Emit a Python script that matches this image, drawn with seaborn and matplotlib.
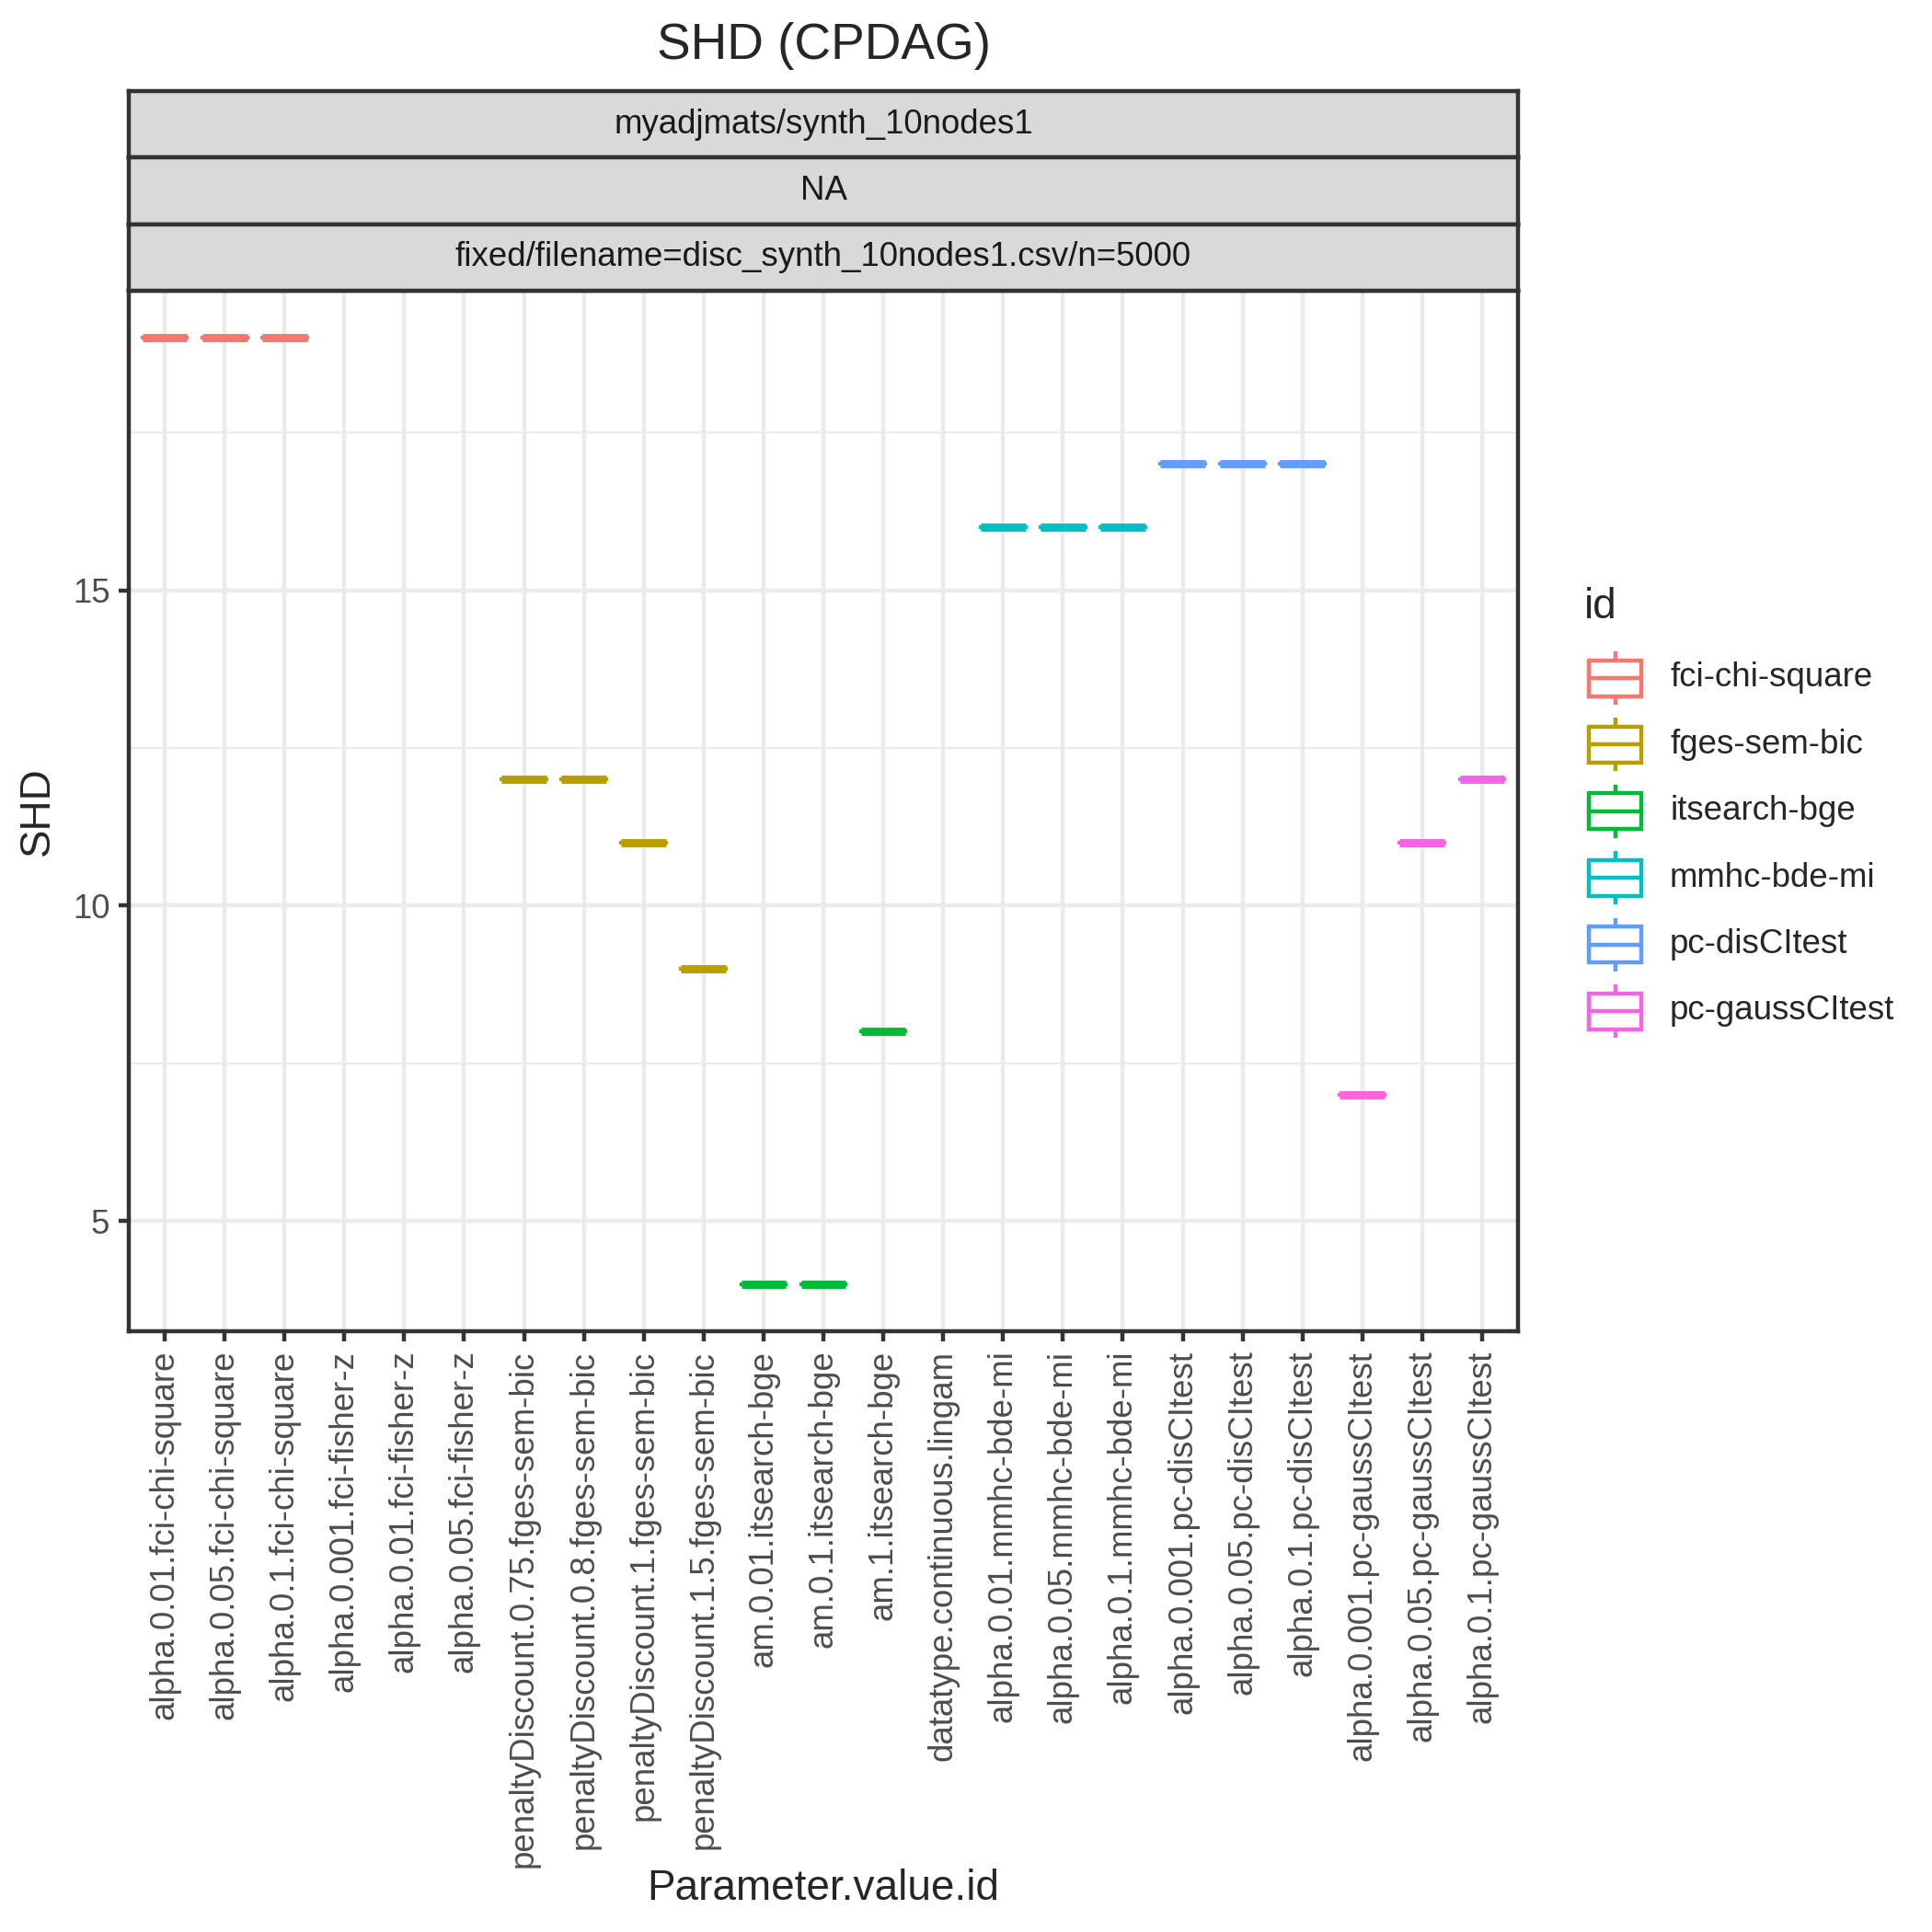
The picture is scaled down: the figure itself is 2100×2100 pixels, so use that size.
import pandas as pd
import seaborn as sns
from matplotlib import pyplot as plt
from matplotlib.ticker import MultipleLocator

# categories on the x axis, in the order shown
param_order = [
    'alpha.0.01.fci-chi-square', 'alpha.0.05.fci-chi-square', 'alpha.0.1.fci-chi-square',
    'alpha.0.001.fci-fisher-z', 'alpha.0.01.fci-fisher-z', 'alpha.0.05.fci-fisher-z',
    'penaltyDiscount.0.75.fges-sem-bic', 'penaltyDiscount.0.8.fges-sem-bic',
    'penaltyDiscount.1.fges-sem-bic', 'penaltyDiscount.1.5.fges-sem-bic',
    'am.0.01.itsearch-bge', 'am.0.1.itsearch-bge', 'am.1.itsearch-bge',
    'datatype.continuous.lingam',
    'alpha.0.01.mmhc-bde-mi', 'alpha.0.05.mmhc-bde-mi', 'alpha.0.1.mmhc-bde-mi',
    'alpha.0.001.pc-disCItest', 'alpha.0.05.pc-disCItest', 'alpha.0.1.pc-disCItest',
    'alpha.0.001.pc-gaussCItest', 'alpha.0.05.pc-gaussCItest', 'alpha.0.1.pc-gaussCItest',
]

id_order = ['fci-chi-square', 'fges-sem-bic', 'itsearch-bge',
            'mmhc-bde-mi', 'pc-disCItest', 'pc-gaussCItest']
id_colors = ['#F8766D', '#B79F00', '#00BA38', '#00BFC4', '#619CFF', '#F564E3']

# observed values (fisher-z and lingam runs have no SHD)
params = [
    'alpha.0.01.fci-chi-square', 'alpha.0.05.fci-chi-square', 'alpha.0.1.fci-chi-square',
    'penaltyDiscount.0.75.fges-sem-bic', 'penaltyDiscount.0.8.fges-sem-bic',
    'penaltyDiscount.1.fges-sem-bic', 'penaltyDiscount.1.5.fges-sem-bic',
    'am.0.01.itsearch-bge', 'am.0.1.itsearch-bge', 'am.1.itsearch-bge',
    'alpha.0.01.mmhc-bde-mi', 'alpha.0.05.mmhc-bde-mi', 'alpha.0.1.mmhc-bde-mi',
    'alpha.0.001.pc-disCItest', 'alpha.0.05.pc-disCItest', 'alpha.0.1.pc-disCItest',
    'alpha.0.001.pc-gaussCItest', 'alpha.0.05.pc-gaussCItest', 'alpha.0.1.pc-gaussCItest',
]
ids = [
    'fci-chi-square', 'fci-chi-square', 'fci-chi-square',
    'fges-sem-bic', 'fges-sem-bic', 'fges-sem-bic', 'fges-sem-bic',
    'itsearch-bge', 'itsearch-bge', 'itsearch-bge',
    'mmhc-bde-mi', 'mmhc-bde-mi', 'mmhc-bde-mi',
    'pc-disCItest', 'pc-disCItest', 'pc-disCItest',
    'pc-gaussCItest', 'pc-gaussCItest', 'pc-gaussCItest',
]
shd = [19, 19, 19, 12, 12, 11, 9, 4, 4, 8, 16, 16, 16, 17, 17, 17, 7, 11, 12]

strip_labels = ['myadjmats/synth_10nodes1', 'NA',
                'fixed/filename=disc_synth_10nodes1.csv/n=5000']

df = pd.DataFrame({'param': params, 'id': ids, 'SHD': shd})

sns.set_style('white')
plt.rcParams['font.family'] = ['Liberation Sans', 'DejaVu Sans']

W = H = 2100.0
LW = 1.07
DARK = '#333333'


def fx(px):
    return px / W


def fy(py):
    return 1 - py / H


fig = plt.figure(figsize=(7, 7), dpi=300)

p_left, p_right, p_top, p_bot = 140, 1650, 316, 1447
ax = fig.add_axes([fx(p_left), fy(p_bot), fx(p_right - p_left), (p_bot - p_top) / H])

sns.boxplot(data=df, x='param', y='SHD', hue='id', order=param_order,
            hue_order=id_order, palette=id_colors, fill=False, dodge=False,
            width=0.75, linewidth=LW, legend=False, ax=ax,
            medianprops=dict(linewidth=2 * LW, solid_capstyle='butt'),
            whiskerprops=dict(linewidth=LW), capprops=dict(linewidth=0))

ax.set_xlim(-0.6, len(param_order) - 1 + 0.6)
ax.set_ylim(3.25, 19.75)
ax.yaxis.set_major_locator(MultipleLocator(5))
ax.yaxis.set_minor_locator(MultipleLocator(2.5))
ax.grid(which='major', color='#EBEBEB', linewidth=LW)
ax.grid(which='minor', axis='y', color='#EBEBEB', linewidth=LW / 2)
ax.set_axisbelow(True)
for s in ax.spines.values():
    s.set_color(DARK)
    s.set_linewidth(LW)
ax.tick_params(axis='both', which='major', color=DARK, width=LW, length=2.75,
               pad=2.2, labelsize=8.8, labelcolor='#4D4D4D', left=True, bottom=True)
ax.tick_params(axis='y', which='minor', left=False)
ax.tick_params(axis='x', labelrotation=90)
ax.set_xlabel('')
ax.set_ylabel('')

# facet strips
strip_top = 99
strip_h = (p_top - strip_top) / 3.0
for i, lab in enumerate(strip_labels):
    top = strip_top + i * strip_h
    sax = fig.add_axes([fx(p_left), fy(top + strip_h), fx(p_right - p_left), strip_h / H])
    sax.set_facecolor('#D9D9D9')
    sax.set_xticks([])
    sax.set_yticks([])
    for s in sax.spines.values():
        s.set_color(DARK)
        s.set_linewidth(LW)
    sax.text(0.5, 0.5, lab, ha='center', va='center', fontsize=8.8,
             color='#1A1A1A', transform=sax.transAxes)

# titles
xc = (p_left + p_right) / 2
fig.text(fx(xc), fy(64), 'SHD (CPDAG)', ha='center', va='baseline', fontsize=13.2)
fig.text(fx(xc), fy(2065), 'Parameter.value.id', ha='center', va='baseline', fontsize=11)
fig.text(fx(53), fy((p_top + p_bot) / 2), 'SHD', ha='center', va='baseline',
         fontsize=11, rotation=90, rotation_mode='anchor')

# legend drawn as boxplot glyphs
lax = fig.add_axes([0, 0, 1, 1], facecolor='none')
lax.set_xlim(0, W)
lax.set_ylim(H, 0)
lax.axis('off')
lax.text(1722, 672, 'id', ha='left', va='baseline', fontsize=11)
for i, (name, col) in enumerate(zip(id_order, id_colors)):
    cy = 737 + i * 72.4
    x0, x1 = 1727, 1784
    xm = (x0 + x1) / 2
    lax.plot([x0, x1, x1, x0, x0], [cy - 19.5, cy - 19.5, cy + 19.5, cy + 19.5, cy - 19.5],
             color=col, lw=LW, solid_joinstyle='miter')
    lax.plot([x0, x1], [cy, cy], color=col, lw=LW)
    lax.plot([xm, xm], [cy - 29, cy - 19.5], color=col, lw=LW, solid_capstyle='butt')
    lax.plot([xm, xm], [cy + 19.5, cy + 29], color=col, lw=LW, solid_capstyle='butt')
    lax.text(1815, cy, name, ha='left', va='center', fontsize=8.8)

fig.savefig('out.png', dpi=300)
plt.close(fig)
